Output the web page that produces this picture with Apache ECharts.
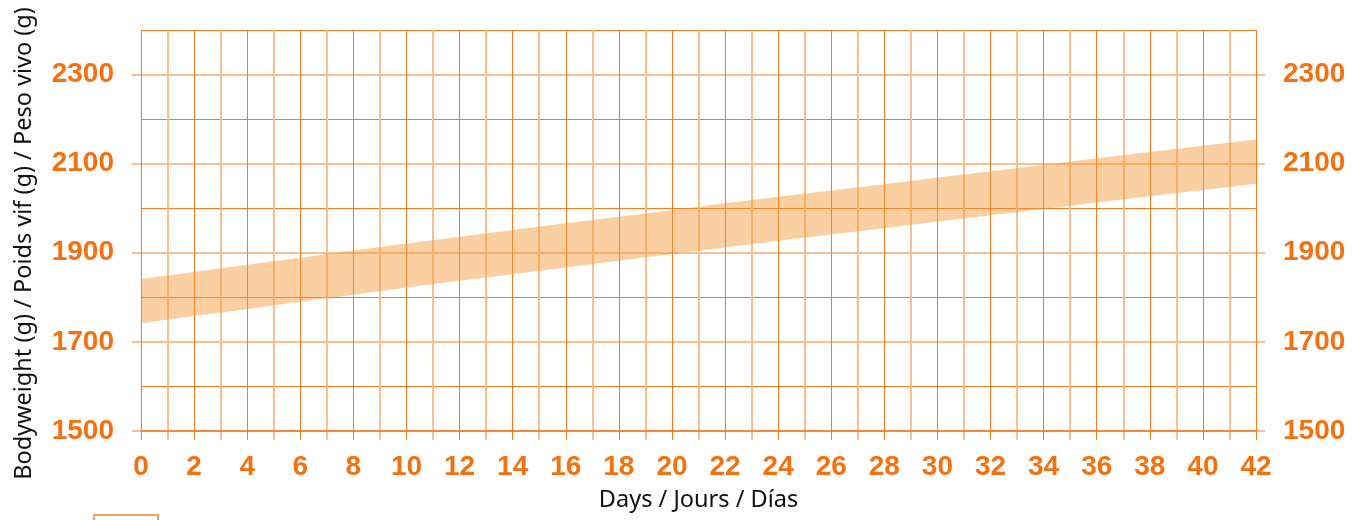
<!DOCTYPE html>
<html><head><meta charset="utf-8">
<script src="https://cdn.jsdelivr.net/npm/echarts@6/dist/echarts.min.js"></script>
<style>html,body{margin:0;padding:0;background:#fff}#c{width:1364px;height:520px}</style>
</head><body><div id="c"></div>
<script>
// Days at which the band edges were read
const days  = [0, 2, 4, 6, 8, 10, 12, 14, 16, 18, 20, 22, 24, 26, 28, 30, 32, 34, 36, 38, 40, 42];
// Lower edge of the target band (g)
const lower = [1742, 1758, 1774, 1790, 1806, 1822, 1837, 1852, 1867, 1882, 1897, 1912, 1927, 1941, 1955, 1970, 1984, 1998, 2013, 2027, 2041, 2055];
// Upper edge of the target band (g)
const upper = [1841, 1857, 1873, 1889, 1905, 1921, 1936, 1951, 1966, 1981, 1996, 2011, 2026, 2040, 2054, 2069, 2083, 2097, 2112, 2126, 2140, 2154];
// Labelled y ticks
const yTickLabels = [1500, 1700, 1900, 2100, 2300];
const xName = 'Days / Jours / Días';
const yName = 'Bodyweight (g) / Poids vif (g) / Peso vivo (g)';
const bandName = 'Target';

const ORANGE = '#f7700f';
const DARK = '#f47a1f';
const LIGHT = '#fbbf8f';
const labelStyle = {color: ORANGE, fontFamily: 'Liberation Sans, Arial, sans-serif', fontWeight: 'bold', fontSize: 28};
const nameStyle = {color: '#111', fontFamily: 'Noto Sans, Open Sans, sans-serif', fontSize: 23.5};

const chart = echarts.init(document.getElementById('c'), null, {renderer: 'canvas'});
const bandData = days.map((d, i) => [d, lower[i], upper[i]]);

chart.setOption({
  animation: false,
  backgroundColor: '#fff',
  grid: [
    {left: 141, right: 108, top: 30, bottom: 89},
    {left: 141, right: 108, top: 30, bottom: 80},
    {left: 132, right: 99, top: 30, bottom: 89}
  ],
  legend: {
    left: 93, top: 514, itemWidth: 64, itemHeight: 20, padding: 0,
    data: [{name: bandName, icon: 'rect', itemStyle: {color: '#fff', borderColor: '#f9a060', borderWidth: 2}}],
    formatter: () => '', selectedMode: false
  },
  xAxis: [
    {gridIndex: 0, type: 'value', min: 0, max: 42, interval: 2,
     axisLine: {show: true, lineStyle: {color: DARK, width: 1.5}},
     axisTick: {show: false}, splitLine: {show: false},
     axisLabel: Object.assign({margin: 22}, labelStyle),
     name: xName, nameLocation: 'middle', nameGap: 57, nameTextStyle: nameStyle},
    {gridIndex: 1, type: 'value', min: 0, max: 42, interval: 1,
     axisLine: {show: false}, axisTick: {show: false}, axisLabel: {show: false},
     splitLine: {show: true, lineStyle: {color: ['rgba(0,0,0,0)', LIGHT], width: 2}}},
    {gridIndex: 1, type: 'value', min: 0, max: 42, interval: 2,
     axisLine: {show: false}, axisTick: {show: false}, axisLabel: {show: false},
     splitLine: {show: true, lineStyle: {color: DARK, width: 1}}},
    {gridIndex: 2, type: 'value', min: 0, max: 42, show: false}
  ],
  yAxis: [
    {gridIndex: 0, type: 'value', position: 'left', min: 1500, max: 2400, interval: 100,
     axisLine: {show: false}, axisTick: {show: false},
     axisLabel: Object.assign({margin: 27, formatter: v => yTickLabels.includes(v) ? String(v) : ''}, labelStyle),
     splitLine: {show: true, lineStyle: {color: ['rgba(0,0,0,0)', DARK], width: 1}},
     name: yName, nameLocation: 'middle', nameGap: 105, nameTextStyle: Object.assign({padding: [0, 26, 0, 0]}, nameStyle)},
    {gridIndex: 0, type: 'value', position: 'right', min: 1500, max: 2400, interval: 100,
     axisLine: {show: false}, axisTick: {show: false},
     axisLabel: Object.assign({margin: 27, formatter: v => yTickLabels.includes(v) ? String(v) : ''}, labelStyle),
     splitLine: {show: false}},
    {gridIndex: 1, type: 'value', min: 0, max: 1, show: false},
    {gridIndex: 2, type: 'value', min: 1500, max: 2400, interval: 100,
     axisLine: {show: false}, axisTick: {show: false}, axisLabel: {show: false},
     splitLine: {show: true, lineStyle: {color: [LIGHT, 'rgba(0,0,0,0)'], width: 2}}}
  ],
  series: [
    {name: bandName, type: 'custom', xAxisIndex: 0, yAxisIndex: 0, data: bandData,
     itemStyle: {color: '#fad0a3'}, silent: true, z: 3,
     encode: {x: 0, y: [1, 2]},
     renderItem: function (params, api) {
       if (params.dataIndex !== 0) return null;
       const top = bandData.map(p => api.coord([p[0], p[2]]));
       const bot = bandData.slice().reverse().map(p => api.coord([p[0], p[1]]));
       return {type: 'polygon', shape: {points: top.concat(bot)},
               style: {fill: 'rgba(245,150,50,0.45)'}};
     }}
  ]
});
</script></body></html>
